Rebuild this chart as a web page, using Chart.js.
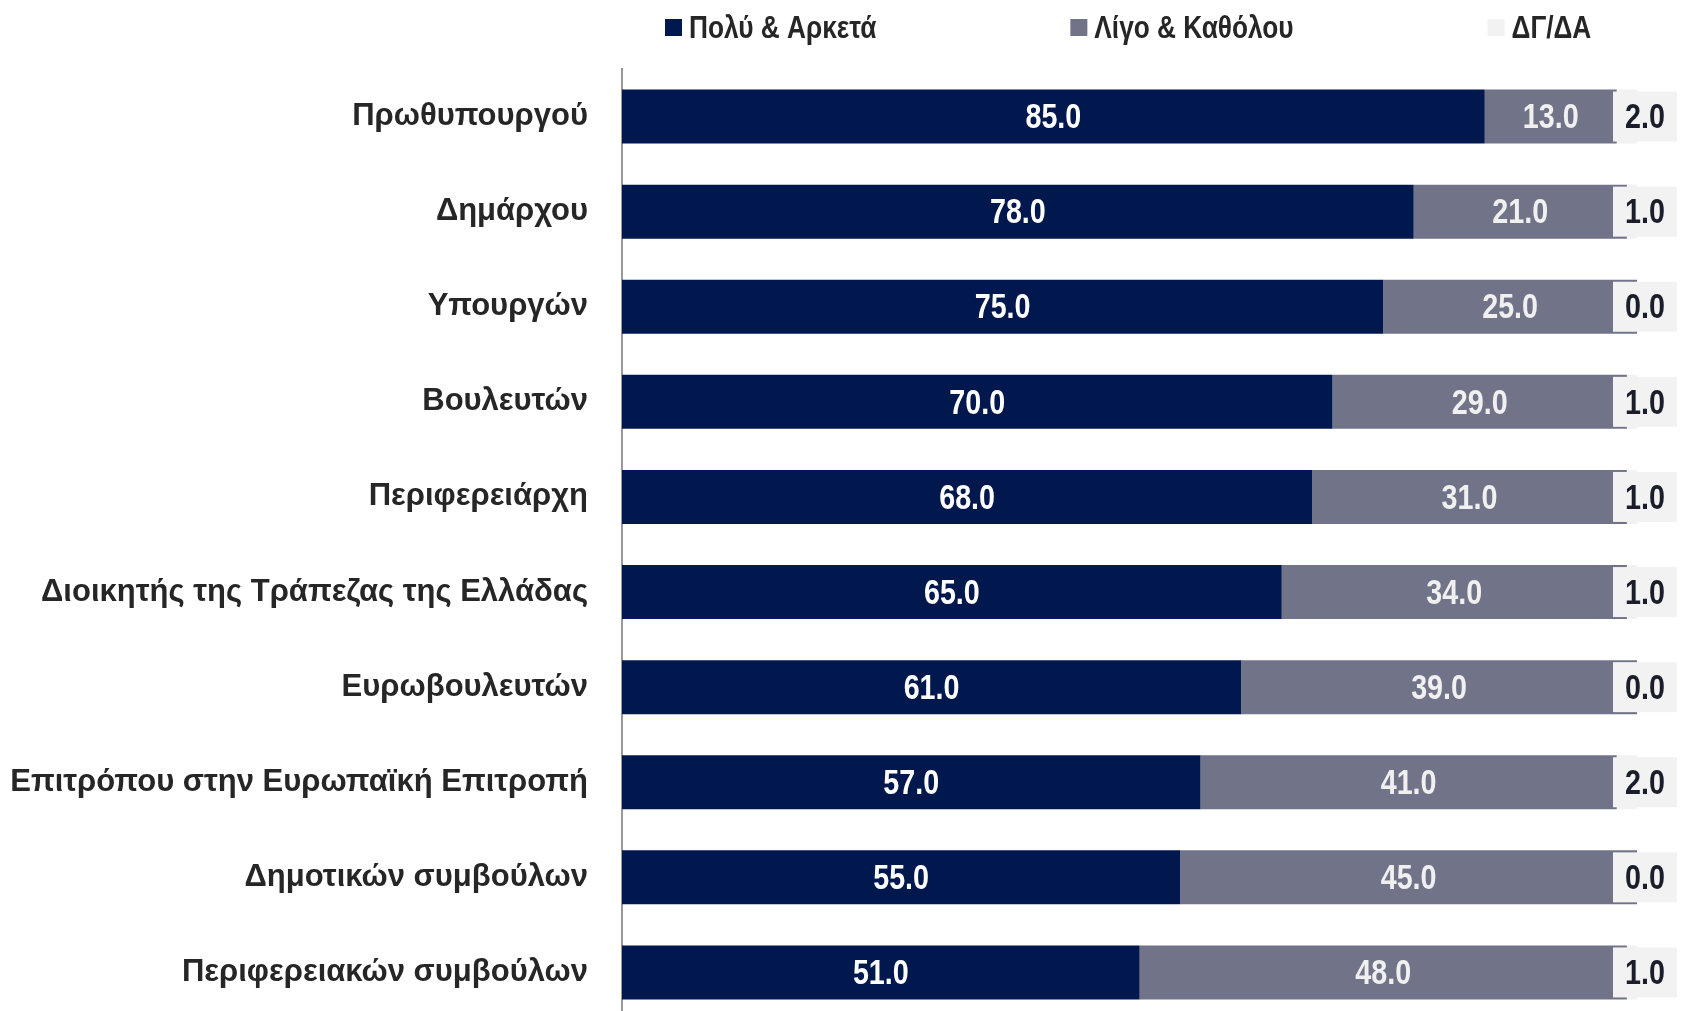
<!DOCTYPE html>
<html>
<head>
<meta charset="utf-8">
<script src="https://cdn.jsdelivr.net/npm/chart.js@4.4.1/dist/chart.umd.min.js"></script>
<style>
html, body { margin: 0; padding: 0; background: #fff; overflow: hidden; }
#wrap { position: relative; width: 1688px; height: 1020px; }
</style>
</head>
<body>
<div id="wrap"><canvas id="trustChart"></canvas></div>
<script>
const categories = [
    'Πρωθυπουργού',
    'Δημάρχου',
    'Υπουργών',
    'Βουλευτών',
    'Περιφερειάρχη',
    'Διοικητής της Τράπεζας της Ελλάδας',
    'Ευρωβουλευτών',
    'Επιτρόπου στην Ευρωπαϊκή Επιτροπή',
    'Δημοτικών συμβούλων',
    'Περιφερειακών συμβούλων'
];
const seriesNames = ['Πολύ & Αρκετά', 'Λίγο & Καθόλου', 'ΔΓ/ΔΑ'];
const poluArketa = [85, 78, 75, 70, 68, 65, 61, 57, 55, 51];
const ligoKatholou = [13, 21, 25, 29, 31, 34, 39, 41, 45, 48];
const dgDa = [2, 1, 0, 1, 1, 1, 0, 2, 0, 1];

const labelFont = "'Liberation Sans', Arial, sans-serif";
const NARROW = 0.82; // fake Arial Narrow by squeezing Arial bold

function narrowText(ctx, text, x, y, size, align) {
    ctx.save();
    ctx.font = 'bold ' + size + 'px ' + labelFont;
    ctx.translate(x, y);
    ctx.scale(NARROW, 1);
    ctx.textAlign = align;
    ctx.textBaseline = 'middle';
    ctx.fillText(text, 0, 0);
    ctx.restore();
}

function narrowWidth(ctx, text, size) {
    ctx.save();
    ctx.font = 'bold ' + size + 'px ' + labelFont;
    const w = ctx.measureText(text).width * NARROW;
    ctx.restore();
    return w;
}

// legend drawn by hand, Excel spaces the items far apart
const topLegend = {
    id: 'topLegend',
    afterDraw(chart) {
        const ctx = chart.ctx;
        const area = chart.chartArea;
        let x = area.left + 43;
        const y = 28;
        chart.data.datasets.forEach(ds => {
            ctx.fillStyle = ds.backgroundColor;
            ctx.fillRect(x, y - 9, 17, 17);
            ctx.fillStyle = '#262626';
            narrowText(ctx, ds.label, x + 24, y + 1, 32, 'left');
            x += 24 + narrowWidth(ctx, ds.label, 32) + 194;
        });
    }
};

const valueLabels = {
    id: 'valueLabels',
    afterDatasetsDraw(chart) {
        const ctx = chart.ctx;
        chart.data.datasets.forEach((ds, di) => {
            const meta = chart.getDatasetMeta(di);
            meta.data.forEach((bar, i) => {
                const text = ds.data[i].toFixed(1);
                if (di < 2) {
                    ctx.fillStyle = di === 0 ? '#ffffff' : '#f0f0f0';
                    narrowText(ctx, text, (bar.x + bar.base) / 2, bar.y + 2, 35, 'center');
                } else {
                    const cx = bar.x + 8;
                    ctx.fillStyle = '#f2f2f2';
                    ctx.fillRect(cx - 32, bar.y - 25, 64, 50);
                    ctx.fillStyle = '#1a1d2a';
                    narrowText(ctx, text, cx, bar.y + 2, 35, 'center');
                }
            });
        });
    }
};

const ctx = document.getElementById('trustChart').getContext('2d');
new Chart(ctx, {
    type: 'bar',
    data: {
        labels: categories,
        datasets: [
            { label: seriesNames[0], data: poluArketa, backgroundColor: '#00184d' },
            { label: seriesNames[1], data: ligoKatholou, backgroundColor: '#717489' },
            { label: seriesNames[2], data: dgDa, backgroundColor: '#f2f2f2' }
        ]
    },
    options: {
        indexAxis: 'y',
        responsive: true,
        maintainAspectRatio: false,
        animation: false,
        layout: { padding: { top: 69, right: 51, left: 0, bottom: 0 } },
        datasets: {
            bar: { barPercentage: 0.71, categoryPercentage: 0.8 }
        },
        plugins: {
            legend: { display: false },
            tooltip: { enabled: false }
        },
        scales: {
            x: {
                stacked: true,
                min: 0,
                max: 100,
                display: false
            },
            y: {
                stacked: true,
                grid: { display: false, drawTicks: false },
                border: { display: true, color: '#999999', width: 2 },
                ticks: {
                    padding: 34,
                    color: '#262626',
                    font: { family: labelFont, size: 31, weight: 'bold' }
                },
                afterFit(scale) {
                    scale.width = 622;
                    // tick padding would otherwise shrink the plot top and bottom
                    scale.paddingTop = 0;
                    scale.paddingBottom = 0;
                }
            }
        }
    },
    plugins: [topLegend, valueLabels]
});
</script>
</body>
</html>
